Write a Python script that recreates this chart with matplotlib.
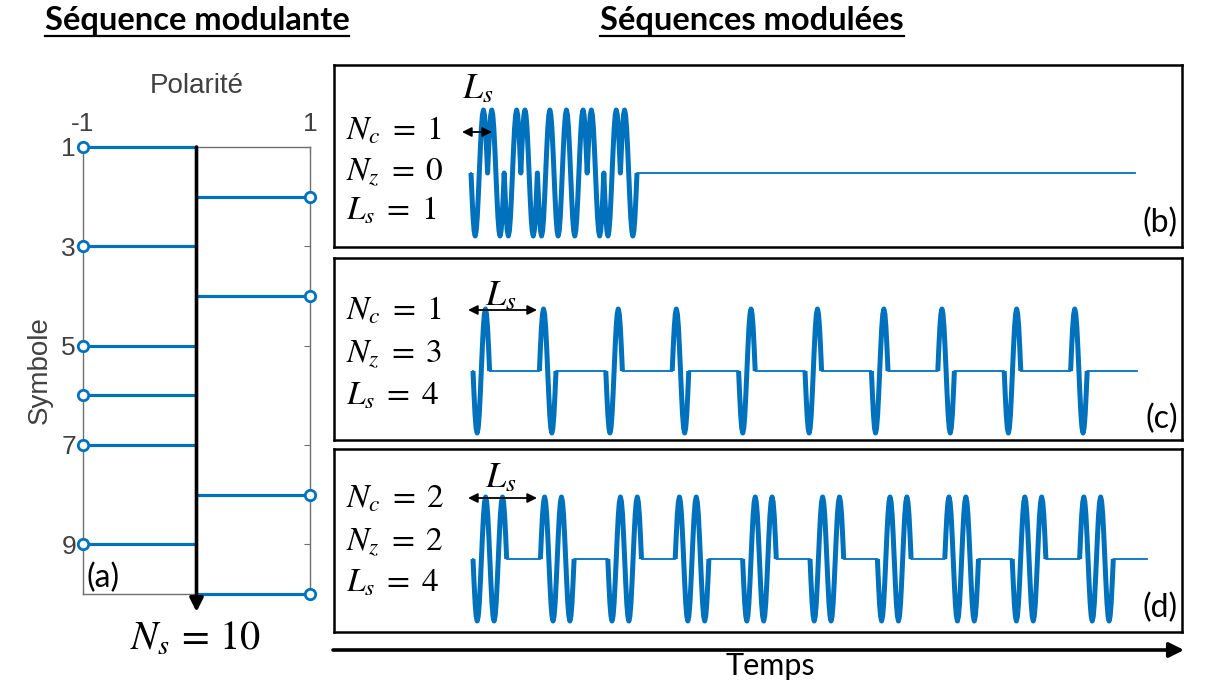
#!/usr/bin/env python
# coding=utf-8
"""
Modulating symbol sequence (a) and the three modulated sequences (b)-(d)
"""

import numpy as np
import matplotlib
matplotlib.use('Agg')
import matplotlib.pyplot as plt
from matplotlib.lines import Line2D

W, H = 1208, 688

#  Modulating sequence (a)
symbols = np.arange(1, 11)
polarity = [-1, 1, -1, 1, -1, -1, -1, 1, -1, 1]
sym_ticks = [1, 3, 5, 7, 9]
pol_ticks = [-1, 1]

#  Modulated sequences (b), (c), (d)
panel_tags = ['(b)', '(c)', '(d)']
n_cycles = [1, 1, 2]
n_zeros = [0, 3, 2]
ls_values = [1, 4, 4]
n_total = 40  # length of the time axis, in carrier cycles

#  One period of the carrier (16 samples)
carrier = [0, 0.38, 0.71, 0.92, 1, 0.92, 0.71, 0.38,
           0, -0.38, -0.71, -0.92, -1, -0.92, -0.71, -0.38]

blue = '#0072BD'
grey = '#404040'
calib = 'Lato'
arial = 'Liberation Sans'
plt.rcParams['mathtext.fontset'] = 'stix'


def px(x, y):
    """pixel position -> figure fraction"""
    return x / W, 1 - y / H


def build_sequence(pol, nc, nz):
    spc = len(carrier)
    y = []
    on = []
    for p in pol:
        for _ in range(nc):
            y += [p * c for c in carrier]
            on += [True] * spc
        y += [0.0] * (spc * nz)
        on += [False] * (spc * nz)
    pad = n_total * spc - len(y)
    y += [0.0] * pad + [0.0]
    on += [False] * pad + [False]
    y = np.array(y, dtype=float)
    on = np.array(on)
    close = np.zeros_like(on)
    close[1:] = on[:-1] & ~on[1:]
    y_pulse = np.where(on | close, y, np.nan)
    t = np.arange(len(y)) / spc
    return t, y, y_pulse


fig = plt.figure(figsize=(W / 100, H / 100), dpi=100)

# ---------------------------------------------------------------- (a)
ax = fig.add_axes([83 / W, 1 - 594 / H, 227 / W, 447 / H])
ax.hlines(symbols, 0, polarity, color=blue, lw=2.3, zorder=3, clip_on=False)
ax.plot(polarity, symbols, 'o', mfc='white', mec=blue, ms=7.5, mew=2,
        clip_on=False, zorder=4)
ax.set_xlim(-1, 1)
ax.set_ylim(10, 1)
ax.set_xticks(pol_ticks)
ax.set_yticks(sym_ticks)
ax.set_xticklabels(['-1', '1'])
ax.tick_params(direction='in', top=True, right=True, labeltop=True,
               labelbottom=False, length=4, width=0.8, color='#707070',
               labelcolor=grey, labelsize=19, labelfontfamily=arial)
ax.tick_params(axis='x', pad=8)
ax.tick_params(axis='y', pad=5)
for s in ax.spines.values():
    s.set_color('#707070')
    s.set_linewidth(1.0)
ax.annotate('', xy=(0, 10.36), xytext=(0, 1),
            arrowprops=dict(arrowstyle='-|>', color='k', lw=2.6,
                            mutation_scale=20, shrinkA=0, shrinkB=0),
            annotation_clip=False, zorder=6)

fig.text(*px(197, 86), 'Polarité', ha='center', va='center',
         fontsize=20, color=grey, family=arial)
fig.text(*px(40, 370), 'Symbole', ha='center', va='center',
         rotation=90, fontsize=20, color=grey, family=arial)
fig.text(*px(87, 578), '(a)', ha='left', va='center', fontsize=23,
         family=calib)
fig.text(*px(195, 650), r'$N_s\,=\,10$', ha='center', va='baseline',
         fontsize=29)

# ---------------------------------------------------------- (b)-(d)
tops = [65, 258, 449]
bottoms = [247, 440, 632]
starts = [471, 473, 473]
units = [16.6, 16.6, 16.85]
zeros_px = [173, 371, 559]
amps = [63, 62, 62]
label_base = [[140, 180, 220], [320, 362, 404], [508, 550, 592]]
ls_arrow = [(462, 492, 132), (468, 537, 310), (468, 537, 498)]
ls_label = [(462, 98), (485, 305), (485, 487)]
tag_y = [223, 419, 608]
left, right = 334, 1182

for i in range(3):
    axp = fig.add_axes([left / W, 1 - bottoms[i] / H, (right - left) / W,
                        (bottoms[i] - tops[i]) / H])
    t, y, y_pulse = build_sequence(polarity, n_cycles[i], n_zeros[i])
    axp.plot(t, y, color=blue, lw=1.3)
    axp.plot(t, y_pulse, color=blue, lw=3.6, solid_joinstyle='round',
             solid_capstyle='butt')
    axp.set_xlim((left - starts[i]) / units[i], (right - starts[i]) / units[i])
    axp.set_ylim(-(bottoms[i] - zeros_px[i]) / amps[i],
                 (zeros_px[i] - tops[i]) / amps[i])
    axp.set_xticks([])
    axp.set_yticks([])
    for s in axp.spines.values():
        s.set_color('k')
        s.set_linewidth(1.8)

    texts = [r'$N_c\;=\;%d$' % n_cycles[i], r'$N_z\;=\;%d$' % n_zeros[i],
             r'$L_s\;=\;%d$' % ls_values[i]]
    for txt, yb in zip(texts, label_base[i]):
        fig.text(*px(346, yb), txt, ha='left', va='baseline', fontsize=24)

    x0, x1, ya = ls_arrow[i]
    axp.annotate('', xy=px(x1, ya), xytext=px(x0, ya),
                 xycoords='figure fraction', textcoords='figure fraction',
                 arrowprops=dict(arrowstyle='<|-|>', color='k', lw=1.3,
                                 mutation_scale=14, shrinkA=0, shrinkB=0))
    fig.text(*px(*ls_label[i]), r'$L_s$', ha='left', va='baseline',
             fontsize=26)
    fig.text(*px(1178, tag_y[i]), panel_tags[i], ha='right', va='center',
             fontsize=23, family=calib)

# time arrow
fig.add_artist(matplotlib.patches.FancyArrowPatch(
    px(333, 650), px(1184, 650), transform=fig.transFigure,
    arrowstyle='-|>', color='k', lw=2.6, mutation_scale=22,
    shrinkA=0, shrinkB=0))
fig.text(*px(770, 666), 'Temps', ha='center', va='center', fontsize=22,
         family=calib)

# titles, underlined
for xc, title in [(197, 'Séquence modulante'), (752, 'Séquences modulées')]:
    tt = fig.text(*px(xc, 30), title, ha='center', va='baseline',
                  fontsize=23.5, fontweight='bold', family=calib)
    fig.canvas.draw()
    bb = tt.get_window_extent()
    fig.add_artist(Line2D([bb.x0 / W, bb.x1 / W], [px(0, 36)[1]] * 2,
                          transform=fig.transFigure, color='k', lw=1.6))

fig.savefig('out.png', dpi=100)
